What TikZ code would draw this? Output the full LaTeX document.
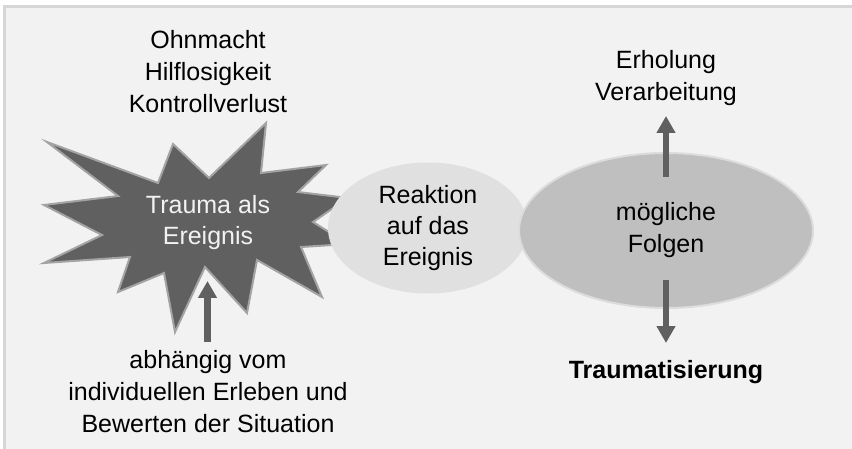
\documentclass[tikz,border=0pt]{standalone}
\usepackage{fontspec}
\setmainfont{Liberation Sans}
\usetikzlibrary{shapes.geometric,arrows.meta}
\definecolor{bg}{HTML}{F2F2F2}
\definecolor{bordergray}{HTML}{D6D6D6}
\definecolor{burst}{HTML}{606060}
\definecolor{burstedge}{HTML}{A3A3A3}
\definecolor{reak}{HTML}{E0E0E0}
\definecolor{folg}{HTML}{BFBFBF}
\definecolor{folgedge}{HTML}{DCDCDC}
\definecolor{arrowgray}{HTML}{606060}
\definecolor{lighttext}{HTML}{F2F2F2}
\begin{document}
\begin{tikzpicture}[x=1pt,y=-1pt,
  txt/.style={font=\fontsize{25}{32}\selectfont, align=center, inner sep=0pt, text=black},
  arr/.style={draw=arrowgray, line width=6.5pt, -{Triangle[width=18pt,length=17pt]}},
  oval/.style={ellipse, inner sep=0pt, font=\fontsize{25}{31}\selectfont, align=center}
]
\useasboundingbox (0,0) rectangle (852,449);
\fill[white] (0,0) rectangle (852,449);
\fill[bg] (4,6) rectangle (852,449);
\draw[line width=2.5pt, bordergray] (4.5,449) -- (4.5,6.5) -- (852,6.5);

% starburst
\filldraw[fill=burst, draw=burstedge, line width=2pt, line join=miter, miter limit=20]
  (47,142) -- (158,183) -- (173,144) -- (209,178) -- (266,123) -- (261,173)
  -- (326,165) -- (298,192) -- (348,198) -- (313,222) -- (348,244) -- (301,247)
  -- (322,297) -- (257,260) -- (247,313) -- (205,267) -- (175,332) -- (164,273)
  -- (118,292) -- (130,257) -- (44,263) -- (102,235) -- (44,205) -- (118,196) -- cycle;
\node[txt, text=lighttext, anchor=base] (trauma) at (208,245) {Trauma als\\Ereignis};

% ellipses
\node[oval, fill=reak, minimum width=200pt, minimum height=131pt] (reaktion) at (428,228) {Reaktion\\auf das\\Ereignis};
\node[oval, fill=folg, draw=folgedge, line width=2pt, minimum width=294pt, minimum height=155pt,
  font=\fontsize{25}{32}\selectfont] (folgen) at (666,230.5) {mögliche\\Folgen};

% texts
\node[txt, anchor=base] (ohn) at (208,113) {Ohnmacht\\Hilflosigkeit\\Kontrollverlust};
\node[txt, anchor=base] (erh) at (666,101) {Erholung\\Verarbeitung};
\node[txt, font=\fontsize{25}{32}\selectfont\bfseries, anchor=base] (traumat) at (666,378) {Traumatisierung};
\node[txt, anchor=base] (abh) at (208,432) {abhängig vom\\individuellen Erleben und\\Bewerten der Situation};

% arrow end points
\coordinate (fUp) at (666,177);
\coordinate (eBot) at (666,116);
\coordinate (fDown) at (666,280);
\coordinate (tTop) at (666,343);
\coordinate (aTop) at (207.5,342);
\coordinate (bBot) at (207.5,281);

\draw[arr] (fUp) -- (eBot);
\draw[arr] (fDown) -- (tTop);
\draw[arr] (aTop) -- (bBot);
\end{tikzpicture}
\end{document}
